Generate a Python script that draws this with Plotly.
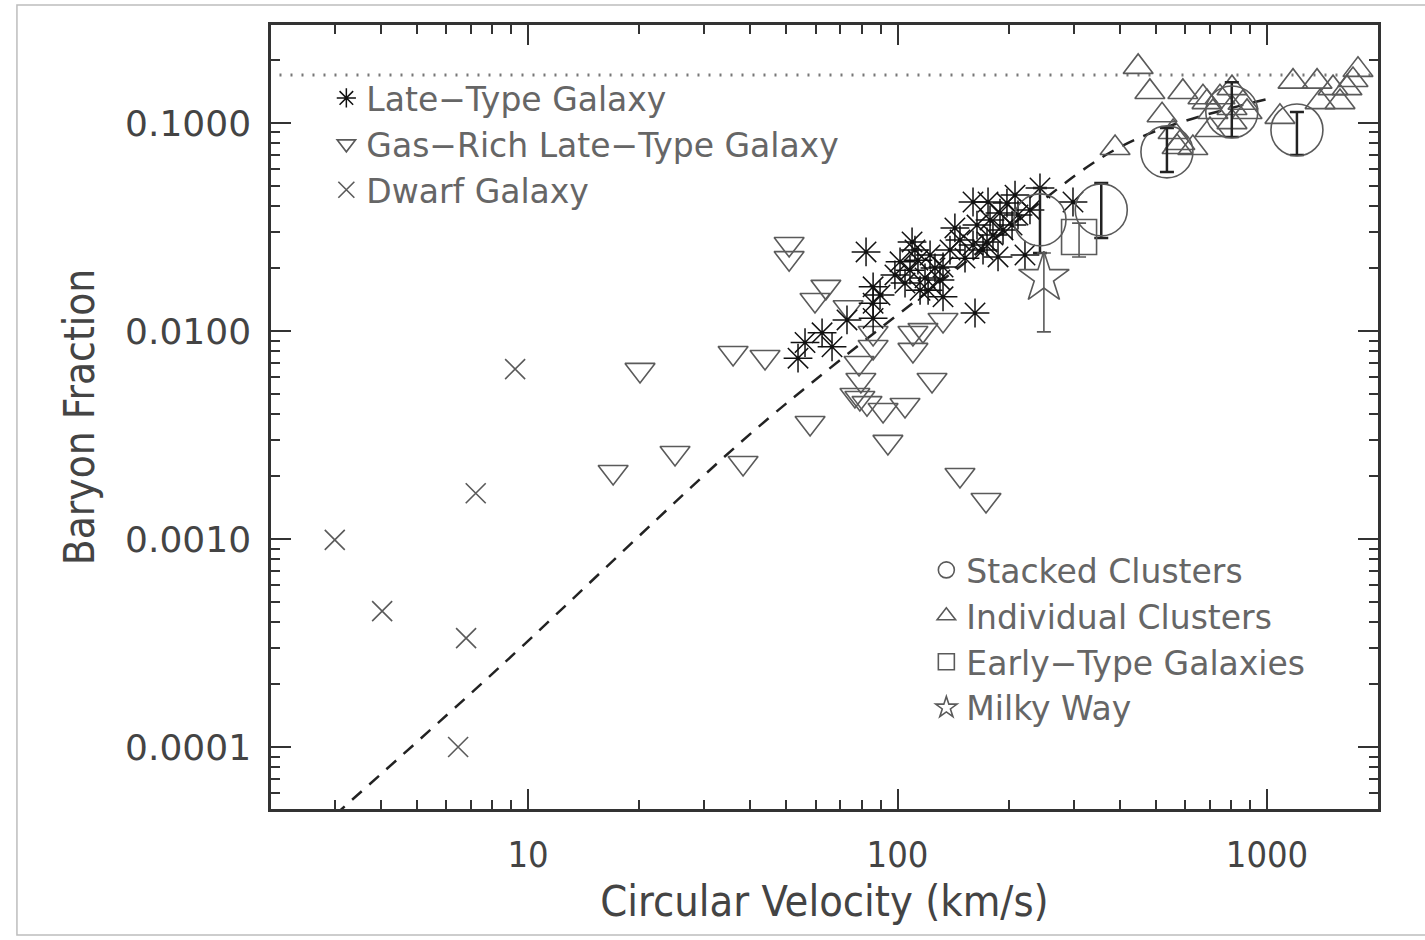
import plotly.graph_objects as go

# ---- data: circular velocity (km/s) and baryon fraction ----
# Dwarf galaxies
dwarf_v = [3.0, 4.03, 6.8, 7.22, 9.23, 6.47]
dwarf_f = [0.00099, 0.00045, 0.000334, 0.00166, 0.00656, 0.0001]

# Late-type galaxies
late_v = [53.8, 56.2, 62.5, 66.5, 73.0, 82.2, 85.9, 85.9, 85.9, 89.7,
          98.4, 101.6, 104.8, 108.1, 109.5, 111.5, 113.6, 115.1, 118.7, 121.0,
          122.5, 126.3, 130.3, 132.8, 132.8, 138.7, 143.0, 147.6, 152.3, 160.1,
          162.1, 164.1, 170.4, 174.7, 178.0, 181.3, 187.1, 193.0, 160.1, 175.8,
          189.4, 197.8, 204.2, 208.0, 211.9, 221.3, 228.3, 243.0, 298.5]
late_f = [0.0074, 0.0088, 0.0098, 0.0084, 0.0113, 0.0240, 0.0163, 0.0136, 0.0115, 0.0149,
          0.0186, 0.0215, 0.0170, 0.0196, 0.0268, 0.0245, 0.0219, 0.0157, 0.0180, 0.0157,
          0.0232, 0.0201, 0.0176, 0.0146, 0.0203, 0.0245, 0.0313, 0.0274, 0.0224, 0.0259,
          0.0122, 0.0323, 0.0245, 0.0268, 0.0342, 0.0289, 0.0227, 0.0306, 0.0417, 0.0417,
          0.0369, 0.0412, 0.0323, 0.0450, 0.0361, 0.0232, 0.0382, 0.0487, 0.0417]

# Gas-rich late-type galaxies
gas_v = [17.0, 20.1, 25.0, 35.9, 38.2, 43.8, 50.9, 50.9, 58.0, 59.8,
         64.0, 73.5, 76.7, 78.7, 79.1, 79.6, 82.7, 85.9, 85.9, 91.4,
         94.2, 104.8, 110.1, 110.1, 117.2, 124.0, 132.8, 147.6, 173.6]
gas_f = [0.0021, 0.0065, 0.00259, 0.00784, 0.00232, 0.0075, 0.0262, 0.0224, 0.00361, 0.0141,
         0.0163, 0.0130, 0.00492, 0.00702, 0.00476, 0.00581, 0.0045, 0.00838, 0.00978, 0.00417,
         0.00293, 0.00441, 0.00978, 0.00811, 0.0101, 0.00581, 0.0113, 0.00203, 0.00154]

# Individual clusters
indiv_v = [388, 448, 482, 520, 557, 571, 581, 592, 630, 671,
           688, 701, 714, 746, 804, 804, 804, 861, 883, 1084,
           1176, 1366, 1392, 1509, 1576, 1646, 1709, 1763]
indiv_f = [0.0758, 0.186, 0.141, 0.109, 0.0905, 0.0767, 0.0801, 0.141, 0.0758, 0.133,
           0.126, 0.0925, 0.113, 0.133, 0.147, 0.118, 0.101, 0.125, 0.113, 0.107,
           0.158, 0.158, 0.126, 0.147, 0.126, 0.147, 0.161, 0.180]

# Stacked clusters with error ranges
stack_v = [243, 356, 536, 803, 1205]
stack_f = [0.0342, 0.0382, 0.0726, 0.113, 0.0925]
stack_hi = [0.0487, 0.0515, 0.0946, 0.157, 0.113]
stack_lo = [0.0237, 0.0280, 0.0581, 0.0857, 0.0702]

# Early-type galaxies
early_v = [310]
early_f = [0.0283]
early_hi = [0.033]
early_lo = [0.0227]

# Milky Way
mw_v = [249]
mw_f = [0.018]
mw_hi = [0.0237]
mw_lo = [0.0099]

# Model relation (dashed) and cosmic baryon fraction (dotted)
model_v = [3.0, 8.4, 37.5, 70, 148, 326, 420, 557, 800, 1050]
model_f = [4.7e-5, 2.43e-4, 2.9e-3, 7.26e-3, 0.0205, 0.0614, 0.080, 0.098, 0.118, 0.133]
cosmic_fb = 0.17

# axis ticks
x_major = [10, 100, 1000]
x_minor = [3, 4, 5, 6, 7, 8, 9, 20, 30, 40, 50, 60, 70, 80, 90,
           200, 300, 400, 500, 600, 700, 800, 900]
y_major = [0.0001, 0.001, 0.01, 0.1]
y_labels = ["0.0001", "0.0010", "0.0100", "0.1000"]
y_minor = [m * 10.0 ** e for e in range(-5, 0) for m in range(2, 10)]


def err_up(f, hi):
    return [h - v for v, h in zip(f, hi)]


def err_dn(f, lo):
    return [v - l for v, l in zip(f, lo)]


GREY = "#5a5a5a"
INK = "#111111"
NARROW = "DejaVu Sans Condensed, Liberation Sans Narrow, Liberation Sans"

fig = go.Figure()

fig.add_trace(go.Scatter(
    x=[1, 5000], y=[cosmic_fb, cosmic_fb], mode="lines",
    line=dict(color="#777777", width=3, dash="2px,9px"),
    showlegend=False, hoverinfo="skip"))

fig.add_trace(go.Scatter(
    x=model_v, y=model_f, mode="lines", line_shape="spline",
    line=dict(color="#222222", width=2.5, dash="13px,10px"),
    showlegend=False, hoverinfo="skip"))

fig.add_trace(go.Scatter(
    x=gas_v, y=gas_f, mode="markers", name="Gas\u2212Rich Late\u2212Type Galaxy",
    marker=dict(symbol="triangle-down-open", size=26, color=GREY,
                line=dict(width=1.6, color=GREY)),
    legend="legend", legendrank=2))

fig.add_trace(go.Scatter(
    x=dwarf_v, y=dwarf_f, mode="markers", name="Dwarf Galaxy",
    marker=dict(symbol="x-thin-open", size=20, color=GREY,
                line=dict(width=1.6, color=GREY)),
    legend="legend", legendrank=3))

fig.add_trace(go.Scatter(
    x=indiv_v, y=indiv_f, mode="markers", name="Individual Clusters",
    marker=dict(symbol="triangle-up-open", size=26, color=GREY,
                line=dict(width=1.6, color=GREY)),
    legend="legend2", legendrank=2))

fig.add_trace(go.Scatter(
    x=late_v, y=late_f, mode="markers", name="Late\u2212Type Galaxy",
    marker=dict(symbol="asterisk-open", size=24, color=INK,
                line=dict(width=1.5, color=INK)),
    legend="legend", legendrank=1))

fig.add_trace(go.Scatter(
    x=stack_v, y=stack_f, mode="markers", name="Stacked Clusters",
    marker=dict(symbol="circle-open", size=52, color=GREY,
                line=dict(width=1.6, color=GREY)),
    error_y=dict(type="data", symmetric=False, array=err_up(stack_f, stack_hi),
                 arrayminus=err_dn(stack_f, stack_lo), color="#222222",
                 thickness=2.5, width=7),
    legend="legend2", legendrank=1))

fig.add_trace(go.Scatter(
    x=early_v, y=early_f, mode="markers", name="Early\u2212Type Galaxies",
    marker=dict(symbol="square-open", size=35, color=GREY,
                line=dict(width=1.6, color=GREY)),
    error_y=dict(type="data", symmetric=False, array=err_up(early_f, early_hi),
                 arrayminus=err_dn(early_f, early_lo), color=GREY,
                 thickness=1.6, width=7),
    legend="legend2", legendrank=3))

fig.add_trace(go.Scatter(
    x=mw_v, y=mw_f, mode="markers", name="Milky Way",
    marker=dict(symbol="star-open", size=38, color=GREY,
                line=dict(width=1.6, color=GREY)),
    error_y=dict(type="data", symmetric=False, array=err_up(mw_f, mw_hi),
                 arrayminus=err_dn(mw_f, mw_lo), color=GREY,
                 thickness=1.6, width=7),
    legend="legend2", legendrank=4))

axis_common = dict(
    showgrid=False, zeroline=False, showline=True, linewidth=2.5,
    linecolor="#333333", mirror="allticks", ticks="inside", ticklen=20,
    tickwidth=2, tickcolor="#333333",
)

fig.update_xaxes(
    type="log", range=[0.3045, 3.3004], tickmode="array",
    tickvals=x_major, ticktext=[str(v) for v in x_major],
    minor=dict(ticks="inside", ticklen=9, tickwidth=1.6, tickcolor="#333333",
               tickmode="array", tickvals=x_minor),
    tickfont=dict(family=NARROW, size=36, color="#444444"),
    ticklabelstandoff=12,
    title=dict(text="Circular Velocity (km/s)", standoff=12,
               font=dict(family=NARROW, size=43, color="#444444")),
    **axis_common)

fig.update_yaxes(
    type="log", range=[-4.298, -0.529], tickmode="array",
    tickvals=y_major, ticktext=y_labels,
    minor=dict(ticks="inside", ticklen=9, tickwidth=1.6, tickcolor="#333333",
               tickmode="array", tickvals=y_minor),
    tickfont=dict(family="DejaVu Sans", size=36, color="#444444"),
    ticklabelstandoff=10,
    title=dict(text="Baryon Fraction", standoff=18,
               font=dict(family=NARROW, size=42, color="#444444")),
    **axis_common)

legend_font = dict(family="DejaVu Sans", size=33, color="#666666")

fig.update_layout(
    width=1425, height=940,
    margin=dict(l=271, r=47, t=25, b=131),
    paper_bgcolor="white", plot_bgcolor="white",
    legend=dict(x=0.05, y=0.9426, xanchor="left", yanchor="top",
                bgcolor="rgba(0,0,0,0)", font=legend_font,
                itemsizing="trace", tracegroupgap=0),
    legend2=dict(x=0.592, y=0.3406, xanchor="left", yanchor="top",
                 bgcolor="rgba(0,0,0,0)", font=legend_font,
                 itemsizing="trace", tracegroupgap=0),
    shapes=[dict(type="rect", xref="paper", yref="paper",
                 x0=-0.2295, x1=1.06, y0=-0.1607, y1=1.0255,
                 line=dict(color="#bdbdbd", width=1.5), layer="below")],
)

fig.write_html("out.html")
